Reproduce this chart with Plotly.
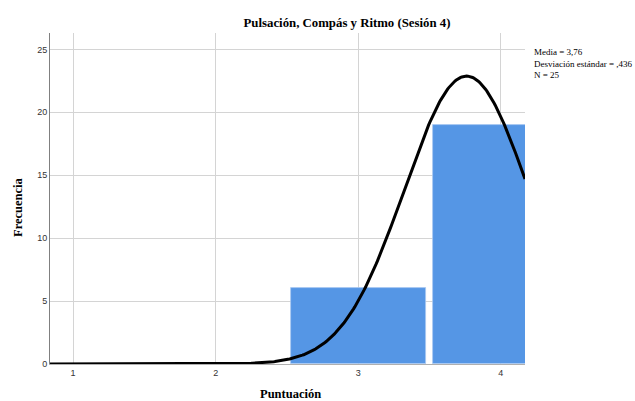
import numpy as np
import plotly.graph_objects as go

# Data
categories = [3, 4]
frequencies = [6, 19]
mean_val = 3.76
sd_val = 0.436
n_val = 25
x_ticks = [1, 2, 3, 4]
y_ticks = [0, 5, 10, 15, 20, 25]
title_text = "Pulsación, Compás y Ritmo (Sesión 4)"
stats_text = "Media = 3,76<br>Desviación estándar = ,436<br>N = 25"

x_range = [0.838, 4.17]
xs = np.linspace(x_range[0], x_range[1], 400)
ys = n_val * 1.0 / (sd_val * np.sqrt(2 * np.pi)) * np.exp(-0.5 * ((xs - mean_val) / sd_val) ** 2)

L, R, T, B = 50, 110, 33, 37
PW, PH = 635 - L - R, 401 - T - B

fig = go.Figure()
fig.add_trace(go.Bar(
    x=categories, y=frequencies, width=0.945,
    marker=dict(color="#5596e5", line=dict(color="#a8c8f0", width=0.8)),
    showlegend=False, hoverinfo="skip",
))
fig.add_trace(go.Scatter(
    x=xs, y=ys, mode="lines",
    line=dict(color="black", width=3),
    showlegend=False, hoverinfo="skip", cliponaxis=True,
))

fig.update_layout(
    width=635, height=401,
    margin=dict(l=L, r=R, t=T, b=B),
    paper_bgcolor="white", plot_bgcolor="white",
    title=dict(text="<b>" + title_text + "</b>", x=347 / 635, xanchor="center",
               y=1 - 23 / 401, yanchor="middle",
               font=dict(family="Liberation Serif", size=12.8, color="black")),
    font=dict(family="Liberation Sans", size=10, color="#333333"),
    xaxis=dict(
        range=x_range, tickvals=x_ticks, ticktext=[str(t) for t in x_ticks],
        showgrid=True, gridcolor="#d4d4d4", gridwidth=1, automargin=False,
        zeroline=False, showline=True, linecolor="#b0b0b0", linewidth=1,
        ticks="", tickfont=dict(family="Liberation Sans", size=9, color="#333333"),
    ),
    yaxis=dict(
        range=[0, 26.3], tickvals=y_ticks, ticktext=[str(t) for t in y_ticks],
        showgrid=True, gridcolor="#d4d4d4", gridwidth=1, automargin=False,
        zeroline=False, showline=True, linecolor="#808080", linewidth=1,
        ticks="", tickfont=dict(family="Liberation Sans", size=9, color="#333333"),
    ),
    bargap=0,
)
fig.add_annotation(
    xref="paper", yref="paper", x=(532 - L) / PW, y=(364 - 45) / PH,
    xanchor="left", yanchor="top", align="left", showarrow=False,
    text=stats_text,
    font=dict(family="Liberation Serif", size=9, color="black"),
)
fig.add_annotation(
    xref="paper", yref="paper", x=(290 - L) / PW, y=(364 - 394) / PH,
    xanchor="center", yanchor="middle", showarrow=False,
    text="<b>Puntuación</b>",
    font=dict(family="Liberation Serif", size=12.5, color="black"),
)
fig.add_annotation(
    xref="paper", yref="paper", x=(18 - L) / PW, y=(364 - 207) / PH,
    xanchor="center", yanchor="middle", showarrow=False, textangle=-90,
    text="<b>Frecuencia</b>",
    font=dict(family="Liberation Serif", size=12.5, color="black"),
)
fig.write_html("out.html")
